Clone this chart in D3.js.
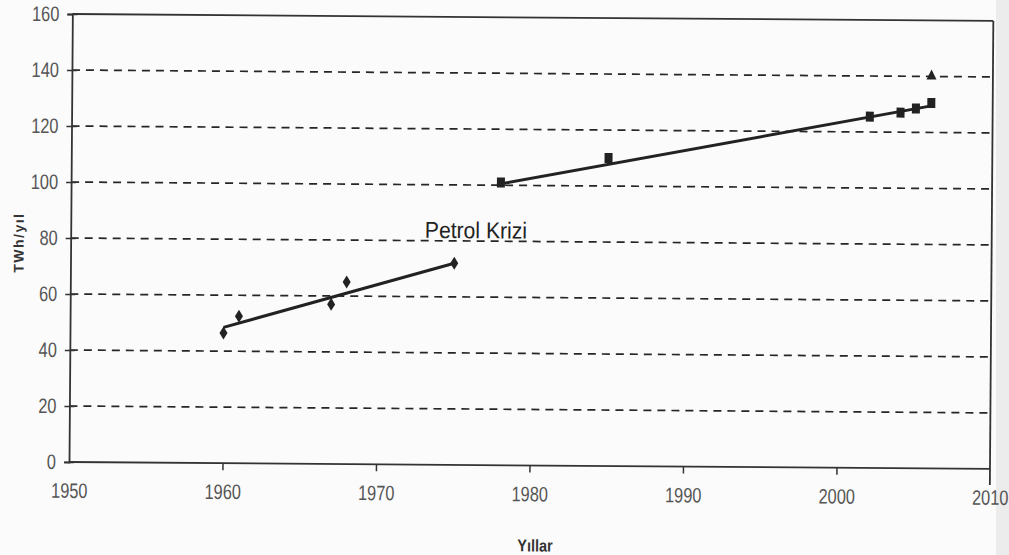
<!DOCTYPE html>
<html>
<head>
<meta charset="utf-8">
<script src="https://cdn.jsdelivr.net/npm/d3@7"></script>
<style>
  html, body { margin: 0; padding: 0; background: #fbfbfb; }
  svg text { font-family: "Liberation Sans", Arial, sans-serif; }
</style>
</head>
<body>
<div id="chart-container"></div>
<script>
/**************************************************
 * Data
 **************************************************/

// diamonds, before the oil crisis
const yearsBefore = [1960, 1961, 1967, 1968, 1975];
const valuesBefore = [46.5, 52.5, 57, 65, 72];

// squares, after the oil crisis
const yearsAfter = [1978, 1985, 2002, 2004, 2005, 2006];
const valuesAfter = [101, 110, 125.5, 127, 128.5, 130.5];

// single triangle
const yearsTriangle = [2006];
const valuesTriangle = [140];

// trend lines (endpoints)
const trendBeforeYears = [1960, 1975];
const trendBeforeValues = [48.5, 72];
const trendAfterYears = [1978, 2006];
const trendAfterValues = [100.5, 129.5];

const xTicks = [1950, 1960, 1970, 1980, 1990, 2000, 2010];
const yTicks = [0, 20, 40, 60, 80, 100, 120, 140, 160];
const gridTicks = [20, 40, 60, 80, 100, 120, 140];

/**************************************************
 * Chart
 **************************************************/

const W = 1009, H = 555;
const plotLeft = 69, plotRight = 990, plotTop = 14, plotBottom = 462;

// squeeze text horizontally, the scan uses a narrow font
function narrow(sel, sx) {
  sel.each(function() {
    const t = d3.select(this);
    const x0 = +(t.attr("x") || 0);
    t.attr("x", x0 / sx).attr("transform", `scale(${sx},1)`);
  });
}

const svg = d3.select("#chart-container")
  .append("svg")
  .attr("width", W)
  .attr("height", H);

// greyish scanner edge on the right
svg.append("rect")
  .attr("x", 996).attr("y", 0)
  .attr("width", 13).attr("height", H)
  .attr("fill", "#ececec");

// the scan is slightly tilted
const g = svg.append("g")
  .attr("transform", `rotate(0.43, ${plotLeft}, ${plotBottom})`);

const x = d3.scaleLinear().domain([1950, 2010]).range([plotLeft, plotRight]);
const y = d3.scaleLinear().domain([0, 160]).range([plotBottom, plotTop]);

// dashed grid
g.selectAll("line.grid")
  .data(gridTicks)
  .enter()
  .append("line")
  .attr("class", "grid")
  .attr("x1", plotLeft).attr("x2", plotRight)
  .attr("y1", d => y(d)).attr("y2", d => y(d))
  .attr("stroke", "#262626")
  .attr("stroke-width", 1.7)
  .attr("stroke-dasharray", "8,6");

// top and right frame lines
g.append("line")
  .attr("x1", plotLeft).attr("x2", plotRight)
  .attr("y1", y(160)).attr("y2", y(160))
  .attr("stroke", "#333").attr("stroke-width", 1.8);
g.append("line")
  .attr("x1", plotRight).attr("x2", plotRight)
  .attr("y1", y(160)).attr("y2", plotBottom + 16)
  .attr("stroke", "#333").attr("stroke-width", 1.8);

// axes
const yAxis = d3.axisLeft(y).tickValues(yTicks).tickSize(5).tickPadding(8);
const xAxis = d3.axisBottom(x).tickValues(xTicks).tickSize(7).tickPadding(14).tickFormat(d3.format("d"));

const yG = g.append("g").attr("transform", `translate(${plotLeft},0)`).call(yAxis);
const xG = g.append("g").attr("transform", `translate(0,${plotBottom})`).call(xAxis);

[yG, xG].forEach(a => {
  a.select(".domain").attr("stroke", "#333").attr("stroke-width", 1.8);
  a.selectAll(".tick line").attr("stroke", "#333").attr("stroke-width", 1.5);
  a.selectAll(".tick text")
    .attr("fill", "#555")
    .attr("font-size", "21px")
    .call(narrow, 0.78);
});
// y ticks cross the axis a bit
yG.selectAll(".tick line").attr("x2", -5).attr("x1", 5);
xG.select(".domain").attr("d", `M${plotLeft},0H${plotRight}`);
xG.selectAll(".tick").filter(d => d === 1950 || d === 2010).select("line").remove();

// trend lines
const line = d3.line().x(d => x(d[0])).y(d => y(d[1]));
[[trendBeforeYears, trendBeforeValues], [trendAfterYears, trendAfterValues]].forEach(([ys, vs]) => {
  g.append("path")
    .datum(ys.map((yr, i) => [yr, vs[i]]))
    .attr("d", line)
    .attr("fill", "none")
    .attr("stroke", "#222")
    .attr("stroke-width", 3);
});

// markers
g.selectAll("path.diamond")
  .data(yearsBefore.map((yr, i) => [yr, valuesBefore[i]]))
  .enter()
  .append("path")
  .attr("class", "diamond")
  .attr("transform", d => `translate(${x(d[0])},${y(d[1])})`)
  .attr("d", "M0,-6.5L4,0L0,6.5L-4,0Z")
  .attr("fill", "#222");

g.selectAll("rect.square")
  .data(yearsAfter.map((yr, i) => [yr, valuesAfter[i]]))
  .enter()
  .append("rect")
  .attr("class", "square")
  .attr("x", d => x(d[0]) - 4)
  .attr("y", d => y(d[1]) - 5)
  .attr("width", 8)
  .attr("height", 10)
  .attr("fill", "#222");

g.selectAll("path.tri")
  .data(yearsTriangle.map((yr, i) => [yr, valuesTriangle[i]]))
  .enter()
  .append("path")
  .attr("class", "tri")
  .attr("transform", d => `translate(${x(d[0])},${y(d[1])})`)
  .attr("d", "M0,-7L5,3L-5,3Z")
  .attr("fill", "#222");

// annotation
g.append("text")
  .attr("x", x(1976.4))
  .attr("y", y(81))
  .attr("text-anchor", "middle")
  .attr("font-size", "23px")
  .attr("fill", "#222")
  .text("Petrol Krizi")
  .call(narrow, 0.92);

// axis titles
g.append("text")
  .attr("transform", `translate(22,${(plotTop + plotBottom) / 2 + 5}) rotate(-90)`)
  .attr("text-anchor", "middle")
  .attr("font-size", "14px")
  .attr("font-weight", "bold")
  .attr("letter-spacing", "1.5px")
  .attr("fill", "#333")
  .text("TWh/yıl");

g.append("text")
  .attr("x", x(1980.4))
  .attr("y", 548)
  .attr("text-anchor", "middle")
  .attr("font-size", "17px")
  .attr("font-weight", "bold")
  .attr("fill", "#333")
  .text("Yıllar")
  .call(narrow, 0.85);
</script>
</body>
</html>
